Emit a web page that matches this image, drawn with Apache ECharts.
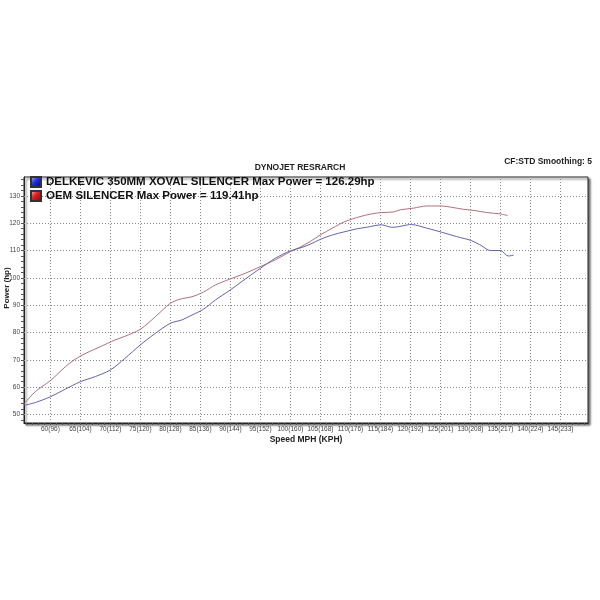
<!DOCTYPE html>
<html><head><meta charset="utf-8">
<script src="https://cdn.jsdelivr.net/npm/echarts@6/dist/echarts.min.js"></script>
<style>html,body{margin:0;padding:0;background:#fff}#c{width:600px;height:600px}</style>
</head><body><div id="c"></div>
<script>
// Series names (legend)
const seriesNames = ['DELKEVIC 350MM XOVAL SILENCER Max Power = 126.29hp', 'OEM SILENCER Max Power = 119.41hp'];
// Upper curve [mph, hp]
const upperCurve = [[55.6,53.9],[57.5,58.4],[60,62.4],[62.5,67.5],[64.1,70.2],[66.1,72.6],[68.3,74.8],[70.8,77.3],[72.4,78.6],[75,81.2],[77.5,85.8],[80,90.7],[81.6,92.2],[83.6,93.1],[85.5,94.8],[87.5,97.4],[90,99.6],[92.5,101.7],[95,104.1],[97.5,106.6],[100,109.6],[101.6,111.2],[103.3,113.3],[105,115.7],[107,118.2],[109.1,120.6],[111.6,122.4],[113.5,123.4],[115.2,123.9],[117.2,124.1],[118.3,124.9],[120.5,125.5],[122.7,126.3],[125.2,126.3],[126.9,125.8],[128.8,125.1],[130.8,124.6],[132.7,123.9],[135,123.4],[136.2,122.8]];
// Lower curve [mph, hp]
const lowerCurve = [[55.6,53.3],[57.5,54.4],[60,56.5],[62.5,59.3],[65,62.0],[67.5,63.9],[70,66.3],[72.4,70.5],[75,75.5],[77.5,79.7],[80,83.4],[81.9,84.6],[83.6,86.4],[85.5,88.5],[87.5,91.9],[90,95.6],[92.5,99.6],[95,103.5],[97.5,107.2],[100,109.9],[101.6,110.9],[103.3,112.3],[105,114.1],[107,115.7],[109.1,116.9],[111,117.9],[112.7,118.5],[115.2,119.4],[116.9,118.5],[118,118.7],[119.5,119.4],[120.2,119.5],[122.7,118.2],[125.2,116.7],[127.7,115.1],[130.2,113.6],[131.9,111.7],[133.3,110.0],[135,110.0],[136.3,108.0],[137.2,108.3]];
// Tick values and labels
const xTicks = [60,65,70,75,80,85,90,95,100,105,110,115,120,125,130,135,140,145];
const xTickLabels = ['60(96)','65(104)','70(112)','75(120)','80(128)','85(136)','90(144)','95(152)','100(160)','105(168)','110(176)','115(184)','120(192)','125(201)','130(208)','135(217)','140(224)','145(233)'];
const yTicks = [50,60,70,80,90,100,110,120,130];
const xMinorTicks = []; for (let v = 56; v <= 149; v++) xMinorTicks.push(v);
const yMinorTicks = []; for (let v = 48; v <= 136; v += 2) yMinorTicks.push(v);

const FONT = 'Liberation Sans, Arial, sans-serif';
const chart = echarts.init(document.getElementById('c'));
const grad = (a,b,c) => new echarts.graphic.LinearGradient(0,0,1,1,[{offset:0,color:a},{offset:0.45,color:b},{offset:1,color:c}]);

chart.setOption({
  animation: false,
  backgroundColor: '#fff',
  title: [
    {text: 'DYNOJET RESRARCH', left: 'center', top: 163, padding: 0,
     textStyle: {fontFamily: FONT, fontSize: 8.5, fontWeight: 'bold', color: '#222'}},
    {text: 'CF:STD Smoothing: 5', right: 8, top: 157, padding: 0,
     textStyle: {fontFamily: FONT, fontSize: 8.5, fontWeight: 'bold', color: '#222'}}
  ],
  legend: {
    data: seriesNames, orient: 'vertical', left: 30, top: 175, padding: 0,
    itemGap: 0, itemWidth: 10, itemHeight: 10, icon: 'rect',
    textStyle: {fontFamily: FONT, fontSize: 11.5, fontWeight: 'bold', color: '#111', lineHeight: 14}
  },
  grid: {left: 24, right: 12, top: 177, bottom: 177, outerBoundsMode: 'none', containLabel: false,
    show: true, backgroundColor: '#fff',
    borderColor: '#222', borderWidth: 1,
    shadowColor: 'rgba(0,0,0,0.55)', shadowBlur: 2, shadowOffsetX: 2, shadowOffsetY: 2},
  xAxis: {
    type: 'value', min: 55.6, max: 149.6,
    name: 'Speed MPH (KPH)', nameLocation: 'middle', nameGap: 12, nameMoveOverlap: false,
    nameTextStyle: {fontFamily: FONT, fontSize: 8.5, fontWeight: 'bold', color: '#222'},
    axisLine: {show: true, lineStyle: {color: '#222'}},
    axisTick: {show: true, customValues: xMinorTicks, length: 2, lineStyle: {color: '#555'}},
    axisLabel: {customValues: xTicks, margin: 3, fontFamily: FONT, fontSize: 6.5, color: '#444',
      showMinLabel: true, showMaxLabel: true, hideOverlap: false,
      formatter: v => xTickLabels[xTicks.indexOf(Math.round(v))]},
    splitLine: {show: false}
  },
  yAxis: {
    type: 'value', min: 46.9, max: 136.9,
    name: 'Power (hp)', nameLocation: 'middle', nameGap: 13, nameMoveOverlap: false,
    nameTextStyle: {fontFamily: FONT, fontSize: 8, fontWeight: 'bold', color: '#222', padding: [0, 0, 0, 24]},
    axisLine: {show: true, lineStyle: {color: '#222'}},
    axisTick: {show: true, customValues: yMinorTicks, length: 3, lineStyle: {color: '#555'}},
    axisLabel: {customValues: yTicks, margin: 4, fontFamily: FONT, fontSize: 6.5, color: '#444',
      showMinLabel: true, showMaxLabel: true, hideOverlap: false},
    splitLine: {show: false}
  },
  series: [
    {name: 'grid', type: 'line', data: [], silent: true, z: 1,
     markLine: {silent: true, symbol: ['none','none'], label: {show: false}, z: 1,
       lineStyle: {color: '#888', type: [1,2], width: 1},
       data: xTicks.map(v => ({xAxis: v})).concat(yTicks.map(v => ({yAxis: v})))}},
    {name: seriesNames[0], type: 'line', data: upperCurve, showSymbol: false, smooth: 0.3, z: 3,
     itemStyle: {color: grad('#c8d0ff','#2030e0','#000080'), borderColor: '#333', borderWidth: 0.5},
     lineStyle: {color: '#b0707c', width: 1}},
    {name: seriesNames[1], type: 'line', data: lowerCurve, showSymbol: false, smooth: 0.3, z: 3,
     itemStyle: {color: grad('#ffd0d0','#e02020','#800000'), borderColor: '#333', borderWidth: 0.5},
     lineStyle: {color: '#6464a8', width: 1}}
  ]
});
</script></body></html>
